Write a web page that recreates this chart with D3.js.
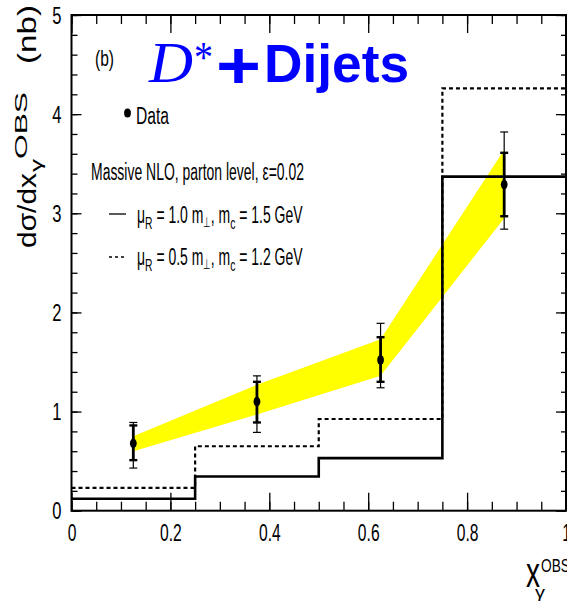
<!DOCTYPE html>
<html>
<head>
<meta charset="utf-8">
<script src="https://cdn.jsdelivr.net/npm/d3@7"></script>
<style>
  body { margin: 0; background: #fff; }
  svg { display: block; }
</style>
</head>
<body>
<div id="chart"></div>
<script>
"use strict";

// bins of x_gamma^OBS
const binEdges = [0, 0.25, 0.5, 0.75, 1];
const binCenters = [0.125, 0.375, 0.625, 0.875];

// data points with inner (stat) and outer (total) error bars
const dataY = [0.68, 1.10, 1.52, 3.29];
const statLo = [0.51, 0.89, 1.30, 2.97];
const statHi = [0.86, 1.30, 1.75, 3.61];
const totLo = [0.43, 0.79, 1.24, 2.84];
const totHi = [0.89, 1.36, 1.89, 3.82];

// yellow band
const bandLo = [0.60, 0.97, 1.36, 2.95];
const bandHi = [0.75, 1.27, 1.73, 3.64];

// massive NLO histograms
const nloSolid = [0.12, 0.345, 0.53, 3.37];
const nloDashed = [0.23, 0.65, 0.925, 4.26];

const xMajor = [0, 0.2, 0.4, 0.6, 0.8, 1];
const xLabels = ["0", "0.2", "0.4", "0.6", "0.8", "1"];
const yMajor = [0, 1, 2, 3, 4, 5];
const yLabels = ["0", "1", "2", "3", "4", "5"];

const W = 567, H = 602;
const X0 = 71.5, X1 = 566, Y0 = 510.7, Y1 = 15;
const SANS = "Liberation Sans, Arial, sans-serif";
const SERIF = "Liberation Serif, Times New Roman, serif";

const svg = d3.select("#chart").append("svg")
    .attr("width", W)
    .attr("height", H)
    .attr("font-family", SANS);

svg.append("rect").attr("width", W).attr("height", H).attr("fill", "#fff");

const x = d3.scaleLinear().domain([0, 1]).range([X0, X1]);
const y = d3.scaleLinear().domain([0, 5]).range([Y0, Y1]);

// band
const area = d3.area()
    .x((d, i) => x(binCenters[i]))
    .y0((d, i) => y(bandLo[i]))
    .y1((d, i) => y(bandHi[i]));

svg.append("path")
    .datum(binCenters)
    .attr("d", area)
    .attr("fill", "#ffff00");

// histograms
function stepPoints(vals) {
    let pts = vals.map((v, i) => [binEdges[i], v]);
    pts.push([binEdges[vals.length], vals[vals.length - 1]]);
    return pts;
}

const step = d3.line()
    .x(d => x(d[0]))
    .y(d => y(d[1]))
    .curve(d3.curveStepAfter);

svg.append("path")
    .datum(stepPoints(nloDashed))
    .attr("d", step)
    .attr("fill", "none")
    .attr("stroke", "#000")
    .attr("stroke-width", 2.2)
    .attr("stroke-dasharray", "4,3");

svg.append("path")
    .datum(stepPoints(nloSolid))
    .attr("d", step)
    .attr("fill", "none")
    .attr("stroke", "#000")
    .attr("stroke-width", 2.6);

// axes (ticks inward on all four sides)
function styleAxis(g) {
    g.select(".domain").remove();
    g.selectAll(".tick line").attr("stroke", "#000").attr("stroke-width", 1.3);
}

function minorRange(a, b, s) {
    return d3.range(Math.round((b - a) / s) + 1).map(i => a + i * s);
}

svg.append("g")
    .attr("transform", `translate(0,${Y0})`)
    .call(d3.axisBottom(x).tickValues(minorRange(0, 1, 0.05)).tickSize(-9).tickFormat(""))
    .call(styleAxis);

const xAxis = svg.append("g")
    .attr("transform", `translate(0,${Y0})`)
    .call(d3.axisBottom(x).tickValues(xMajor).tickSizeInner(-18).tickSizeOuter(0)
        .tickPadding(14).tickFormat((d, i) => xLabels[i]))
    .call(styleAxis);

xAxis.selectAll(".tick text")
    .attr("font-size", 23)
    .attr("font-family", SANS)
    .attr("fill", "#000")
    .attr("transform", "scale(0.68,1)");

svg.append("g")
    .attr("transform", `translate(0,${Y1})`)
    .call(d3.axisTop(x).tickValues(minorRange(0, 1, 0.05)).tickSize(-9).tickFormat(""))
    .call(styleAxis);

svg.append("g")
    .attr("transform", `translate(0,${Y1})`)
    .call(d3.axisTop(x).tickValues(xMajor).tickSize(-18).tickFormat(""))
    .call(styleAxis);

svg.append("g")
    .attr("transform", `translate(${X0},0)`)
    .call(d3.axisLeft(y).tickValues(minorRange(0, 5, 0.2)).tickSize(-6).tickFormat(""))
    .call(styleAxis);

const yAxis = svg.append("g")
    .attr("transform", `translate(${X0},0)`)
    .call(d3.axisLeft(y).tickValues(yMajor).tickSizeInner(-10).tickSizeOuter(0)
        .tickFormat((d, i) => yLabels[i]))
    .call(styleAxis);

yAxis.selectAll(".tick text")
    .attr("font-size", 23)
    .attr("font-family", SANS)
    .attr("fill", "#000")
    .attr("x", 0)
    .attr("dy", "0.36em")
    .attr("transform", "translate(-10,0) scale(0.72,1)");

svg.append("g")
    .attr("transform", `translate(${X1},0)`)
    .call(d3.axisRight(y).tickValues(minorRange(0, 5, 0.2)).tickSize(-5).tickFormat(""))
    .call(styleAxis);

svg.append("g")
    .attr("transform", `translate(${X1},0)`)
    .call(d3.axisRight(y).tickValues(yMajor).tickSize(-10).tickFormat(""))
    .call(styleAxis);

// frame
svg.append("rect")
    .attr("x", X0).attr("y", Y1)
    .attr("width", X1 - X0).attr("height", Y0 - Y1)
    .attr("fill", "none")
    .attr("stroke", "#000")
    .attr("stroke-width", 2);

// data points
const pts = svg.append("g");
binCenters.forEach((c, i) => {
    const cx = x(c);
    pts.append("line")
        .attr("x1", cx).attr("x2", cx)
        .attr("y1", y(totLo[i])).attr("y2", y(totHi[i]))
        .attr("stroke", "#000").attr("stroke-width", 1.2);
    [totLo[i], totHi[i]].forEach(v => {
        pts.append("line")
            .attr("x1", cx - 4).attr("x2", cx + 4)
            .attr("y1", y(v)).attr("y2", y(v))
            .attr("stroke", "#000").attr("stroke-width", 1.2);
    });
    pts.append("line")
        .attr("x1", cx).attr("x2", cx)
        .attr("y1", y(statLo[i])).attr("y2", y(statHi[i]))
        .attr("stroke", "#000").attr("stroke-width", 2.8);
    [statLo[i], statHi[i]].forEach(v => {
        pts.append("line")
            .attr("x1", cx - 4).attr("x2", cx + 4)
            .attr("y1", y(v)).attr("y2", y(v))
            .attr("stroke", "#000").attr("stroke-width", 2.4);
    });
    pts.append("ellipse")
        .attr("cx", cx).attr("cy", y(dataY[i]))
        .attr("rx", 3.4).attr("ry", 4.8)
        .attr("fill", "#000");
});

// text helper: plain string squeezed to an exact length
function label(parent, str, x0, x1, base, size, extra) {
    const t = parent.append("text")
        .attr("x", x0).attr("y", base)
        .attr("font-size", size)
        .attr("fill", "#000")
        .attr("textLength", x1 - x0)
        .attr("lengthAdjust", "spacingAndGlyphs")
        .text(str);
    if (extra) extra(t);
    return t;
}

// rich text (tspans with shifts), squeezed as a whole to span x0..x1
function richLabel(parts, x0, x1, base, size) {
    const g = svg.append("g");
    const t = g.append("text").attr("font-size", size).attr("fill", "#000");
    let shift = 0;
    parts.forEach(p => {
        const dy = (p.dy || 0) - shift;
        shift = p.dy || 0;
        t.append("tspan")
            .attr("dy", dy)
            .attr("font-size", p.size || size)
            .text(p.s);
    });
    const bb = t.node().getBBox();
    const sx = (x1 - x0) / bb.width;
    g.attr("transform", `translate(${x0 - bb.x * sx},${base}) scale(${sx},1)`);
    return g;
}

// axis titles
label(svg, "x", 526, 540, 587, 42);
label(svg, "γ", 535, 545, 598, 17);
label(svg, "OBS", 541, 570, 572, 18);

const yl = svg.append("g").attr("transform", "translate(36,248) rotate(-90)");
label(yl, "dσ/dx", 0, 75, 0, 25);
label(yl, "γ", 76, 89, 6, 17);
label(yl, "OBS", 89, 156, -9, 17);
label(yl, "(nb)", 184, 243, 0, 25);

// panel label and title
label(svg, "(b)", 95, 114, 66, 22);

const blue = t => t.attr("fill", "#0000ff");
label(svg, "D", 149, 193, 82, 58, t => blue(t)
    .attr("font-family", SERIF).attr("font-style", "italic"));
label(svg, "*", 194, 213, 72, 44, t => blue(t).attr("font-family", SERIF));
label(svg, "+", 216, 261, 88, 66, t => blue(t).attr("font-weight", "bold"));
label(svg, "Dijets", 264, 409, 82, 54, t => blue(t).attr("font-weight", "bold"));

// legend
svg.append("ellipse")
    .attr("cx", 127.5).attr("cy", 113)
    .attr("rx", 3.4).attr("ry", 4.6)
    .attr("fill", "#000");
label(svg, "Data", 136, 169, 124, 23);

label(svg, "Massive NLO, parton level, ε=0.02", 91, 304, 180, 23);

svg.append("line")
    .attr("x1", 109).attr("x2", 126)
    .attr("y1", 214).attr("y2", 214)
    .attr("stroke", "#000").attr("stroke-width", 1.3);
svg.append("line")
    .attr("x1", 109).attr("x2", 127)
    .attr("y1", 257).attr("y2", 257)
    .attr("stroke", "#000").attr("stroke-width", 1.3)
    .attr("stroke-dasharray", "3,3");

function massLine(base, mu, mc) {
    richLabel([
        { s: "μ" },
        { s: "R", dy: 6, size: 17 },
        { s: " = " + mu + " m" },
        { s: "⊥", dy: 4, size: 14 },
        { s: ", m" },
        { s: "c", dy: 6, size: 17 },
        { s: " = " + mc + " GeV" },
    ], 137, 303, base, 23);
}
massLine(223, "1.0", "1.5");
massLine(265, "0.5", "1.2");
</script>
</body>
</html>
